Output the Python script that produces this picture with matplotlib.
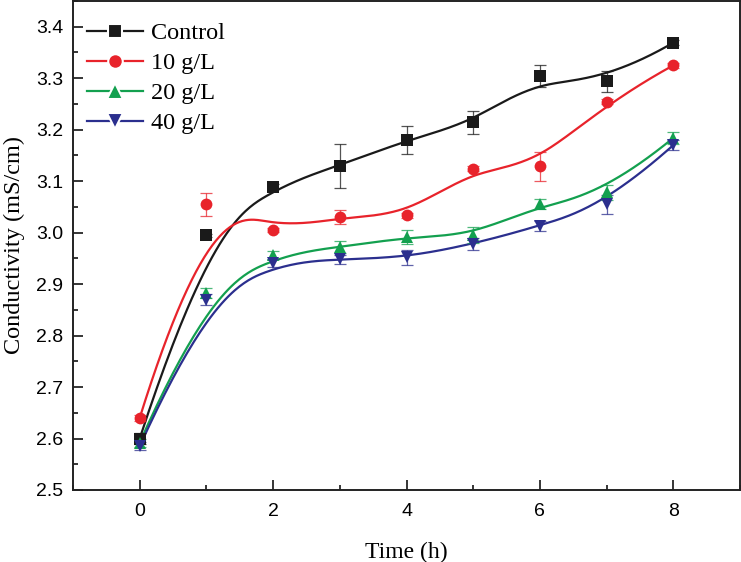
import numpy as np
import matplotlib
matplotlib.use("Agg")
import matplotlib.pyplot as plt
from matplotlib.ticker import MultipleLocator

# ---- data ----
time_h = [0, 1, 2, 3, 4, 5, 6, 7, 8]
labels = ["Control", "10 g/L", "20 g/L", "40 g/L"]
control = [2.600, 2.995, 3.089, 3.130, 3.180, 3.214, 3.304, 3.294, 3.369]
g10 = [2.640, 3.055, 3.005, 3.030, 3.034, 3.124, 3.129, 3.254, 3.325]
g20 = [2.592, 2.883, 2.956, 2.972, 2.991, 2.995, 3.055, 3.078, 3.184]
g40 = [2.585, 2.870, 2.941, 2.948, 2.952, 2.978, 3.013, 3.055, 3.170]
control_err = [0.010, 0.003, 0.005, 0.043, 0.028, 0.022, 0.021, 0.020, 0.005]
g10_err = [0.005, 0.022, 0.004, 0.014, 0.005, 0.005, 0.028, 0.005, 0.005]
g20_err = [0.008, 0.010, 0.008, 0.012, 0.014, 0.015, 0.010, 0.014, 0.012]
g40_err = [0.008, 0.010, 0.008, 0.008, 0.014, 0.012, 0.010, 0.018, 0.010]

series = [control, g10, g20, g40]
errs = [control_err, g10_err, g20_err, g40_err]
colors = ["#1a1a1a", "#e8232b", "#13a04f", "#2b2f8e"]
markers = ["s", "o", "^", "v"]
msizes = [8, 8.5, 9, 9]


def bspline(xs, ys, n=400, k=3):
    P = np.column_stack([xs, ys]).astype(float)
    m = len(P)
    knots = np.concatenate([np.zeros(k), np.arange(m - k + 1), np.full(k, m - k)]).astype(float)
    t = np.linspace(0, m - k, n)
    t[-1] -= 1e-9
    N = np.zeros((n, len(knots) - 1))
    for i in range(len(knots) - 1):
        N[:, i] = ((t >= knots[i]) & (t < knots[i + 1])).astype(float)
    for d in range(1, k + 1):
        Nn = np.zeros((n, len(knots) - 1 - d))
        for i in range(len(knots) - 1 - d):
            a = knots[i + d] - knots[i]
            b = knots[i + d + 1] - knots[i + 1]
            term = np.zeros(n)
            if a > 0:
                term += (t - knots[i]) / a * N[:, i]
            if b > 0:
                term += (knots[i + d + 1] - t) / b * N[:, i + 1]
            Nn[:, i] = term
        N = Nn
    C = N @ P
    return C[:, 0], C[:, 1]


plt.rcParams["font.family"] = ["Liberation Sans", "DejaVu Sans"]
fig = plt.figure(figsize=(7.41, 5.62), dpi=100)
ax = fig.add_axes([73 / 741, 1 - 490 / 562, 667 / 741, 489 / 562])

handles = []
for ys, er, c, mk, ms, lab in zip(series, errs, colors, markers, msizes, labels):
    sx, sy = bspline(time_h, ys)
    ax.plot(sx, sy, color=c, lw=1.6, zorder=2)
    ax.errorbar(time_h, ys, yerr=er, fmt="none", ecolor=c, elinewidth=0.9,
                capsize=4, capthick=0.9, alpha=0.75, zorder=3)
    ax.plot(time_h, ys, linestyle="none", marker=mk, color=c, ms=ms,
            markeredgewidth=0, zorder=4)
    h, = ax.plot([], [], color=c, lw=1.6, marker=mk, ms=ms + 2, markeredgecolor="white",
                 markeredgewidth=1.5, label=lab)
    handles.append(h)

ax.set_xlim(-1, 9)
ax.set_ylim(2.5, 3.45)
ax.xaxis.set_minor_locator(MultipleLocator(1))
ax.yaxis.set_minor_locator(MultipleLocator(0.05))
ax.set_yticks([2.5, 2.6, 2.7, 2.8, 2.9, 3.0, 3.1, 3.2, 3.3, 3.4])
ax.set_yticklabels(["2.5", "2.6", "2.7", "2.8", "2.9", "3.0", "3.1", "3.2", "3.3", "3.4"])
ax.set_xticks([0, 2, 4, 6, 8])
ax.set_xticklabels(["0", "2", "4", "6", "8"])

ax.tick_params(which="major", direction="in", length=7.5, width=1.1, labelsize=14, pad=7,
               top=False, right=False)
ax.tick_params(which="minor", direction="in", length=3.8, width=1.1, top=False, right=False)
ax.tick_params(axis="x", which="major", pad=9)
for sp in ax.spines.values():
    sp.set_linewidth(1.4)
    sp.set_color("#222222")

ax.set_xlabel("Time (h)", fontsize=17, family=["Liberation Serif", "DejaVu Serif"], labelpad=16)
ax.set_ylabel("Conductivity (mS/cm)", fontsize=17.5, family=["Liberation Serif", "DejaVu Serif"], labelpad=8)

leg = ax.legend(handles=handles, loc="upper left", bbox_to_anchor=(0.021, 0.957),
                frameon=False, borderaxespad=0, borderpad=0,
                prop={"family": "Liberation Serif", "size": 17.5},
                handlelength=2.3, handletextpad=0.35, labelspacing=0.33, numpoints=1)

fig.savefig("out.png", dpi=100)
